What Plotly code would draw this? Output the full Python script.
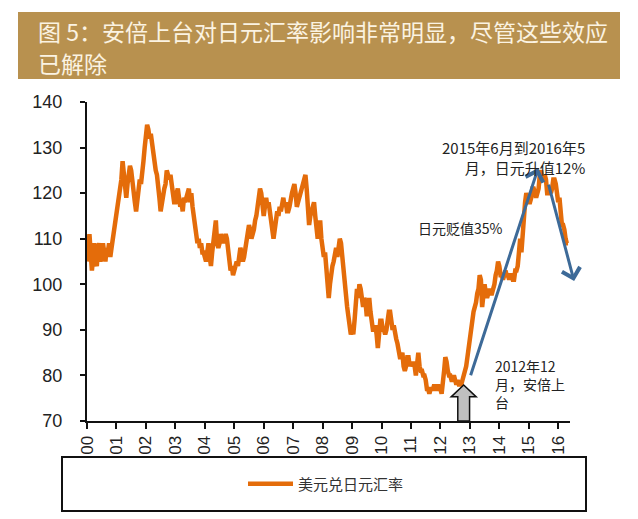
import plotly.graph_objects as go

# ---------------- data (USD/JPY, semi-monthly readings) ----------------
y2000 = [105, 108, 111, 107, 103, 106, 109, 105, 104, 108, 109, 105, 106, 109, 107, 105, 108, 107, 109, 106, 108, 110, 112, 114]
y2001 = [116, 118, 119, 121, 123, 127, 124, 121, 119, 122, 124, 126, 125, 122, 120, 118, 116, 119, 121, 123, 122, 124, 127, 130]
y2002 = [133, 135, 134, 132, 133, 131, 128, 127, 125, 124, 122, 119, 116, 118, 119, 121, 122, 125, 124, 123, 124, 121, 120, 118]
y2003 = [118, 120, 121, 119, 117, 118, 116, 119, 118, 119, 120, 121, 118, 120, 117, 115, 112, 110, 109, 110, 108, 109, 107, 107]
y2004 = [106, 105, 107, 109, 106, 104, 107, 110, 113, 114, 109, 108, 109, 111, 110, 109, 110, 111, 110, 107, 104, 103, 104, 102]
y2005 = [103, 104, 105, 104, 106, 108, 107, 105, 106, 108, 109, 111, 113, 112, 110, 111, 112, 114, 115, 117, 119, 121, 120, 117]
y2006 = [115, 117, 119, 117, 118, 116, 114, 112, 110, 112, 114, 116, 115, 117, 116, 118, 119, 117, 118, 116, 116, 117, 119, 120]
y2007 = [121, 122, 120, 117, 118, 119, 120, 121, 122, 123, 124, 121, 118, 113, 115, 116, 117, 118, 115, 111, 110, 112, 114, 110]
y2008 = [108, 106, 107, 103, 99, 97, 100, 103, 104, 105, 107, 108, 106, 108, 110, 109, 106, 104, 100, 96, 95, 93, 90, 89]
y2009 = [90, 89, 92, 97, 99, 97, 100, 99, 96, 95, 97, 96, 93, 95, 97, 94, 91, 90, 90, 91, 89, 86, 89, 92]
y2010 = [92, 90, 90, 89, 90, 93, 94, 94, 92, 90, 91, 89, 88, 87, 85, 84, 84, 85, 82, 81, 82, 84, 84, 82]
y2011 = [83, 82, 83, 82, 80, 83, 85, 82, 81, 81, 80, 80, 79, 77, 77, 76, 77, 77, 77, 78, 77, 77, 78, 77]
y2012 = [77, 76, 78, 81, 84, 83, 81, 80, 80, 79, 79, 80, 79, 78, 79, 78, 78, 78, 79, 80, 81, 82, 84, 86]
y2013 = [89, 91, 93, 94, 95, 96, 98, 99, 102, 101, 95, 99, 100, 98, 97, 98, 99, 98, 98, 99, 100, 102, 103, 105]
y2014 = [104, 102, 102, 101, 102, 103, 102, 102, 101, 102, 102, 101, 101, 103, 103, 104, 107, 110, 107, 112, 116, 118, 120, 119]
y2015 = [118, 118, 119, 121, 121, 120, 119, 120, 121, 124, 125, 123, 123, 124, 123, 120, 120, 121, 120, 121, 123, 123, 122, 120]
y2016 = [118, 119, 116, 113, 113, 112, 110, 109, 109]

years = list(range(2000, 2017))
tick_labels = ["00", "01", "02", "03", "04", "05", "06", "07", "08",
               "09", "10", "11", "12", "13", "14", "15", "16"]
series_name = "美元兑日元汇率"

yearly = [y2000, y2001, y2002, y2003, y2004, y2005, y2006, y2007, y2008,
          y2009, y2010, y2011, y2012, y2013, y2014, y2015, y2016]
xs, ys = [], []
for yr, vals in zip(years, yearly):
    for k, v in enumerate(vals):
        xs.append(yr + k / 24)
        ys.append(v)

# ---------------- figure ----------------
W, H = 638, 519
L, R, T, B = 87, 68, 102, 98
pw, ph = W - L - R, H - T - B

def px(xp):
    return (xp - L) / pw

def py(yp):
    return (H - B - yp) / ph

fig = go.Figure()
fig.add_trace(go.Scatter(
    x=xs, y=ys, mode="lines", name=series_name,
    line=dict(color="#E46C0A", width=4.5),
))

blue = "#3D6A98"
ann = []
title_font = dict(family="Noto Sans CJK SC", size=23, color="#FBF3E2")
ann.append(dict(xref="paper", yref="paper", x=px(36), y=py(31), xanchor="left", yanchor="middle",
                text="图 5：安倍上台对日元汇率影响非常明显，尽管这些效应", showarrow=False,
                font=title_font))
ann.append(dict(xref="paper", yref="paper", x=px(36), y=py(63), xanchor="left", yanchor="middle",
                text="已解除", showarrow=False, font=title_font))
# blue arrows
ann.append(dict(x=2015.32, y=125.5, ax=2013.01, ay=79.7, xref="x", yref="y", axref="x", ayref="y",
                text="", showarrow=True, arrowhead=4, arrowsize=1.2, arrowwidth=3, arrowcolor=blue))
ann.append(dict(x=2016.54, y=100.7, ax=2015.66, ay=122.2, xref="x", yref="y", axref="x", ayref="y",
                text="", showarrow=True, arrowhead=4, arrowsize=1.2, arrowwidth=3, arrowcolor=blue))
# text notes
def nf(size):
    return dict(family="Noto Sans CJK SC", size=size, color="#222222")

ann.append(dict(xref="paper", yref="paper", x=px(587), y=py(157), xanchor="right", yanchor="middle",
                align="right", showarrow=False, font=nf(15),
                text="2015年6月到2016年5<br>月，日元升值12%"))
ann.append(dict(xref="paper", yref="paper", x=px(416), y=py(228), xanchor="left", yanchor="middle",
                showarrow=False, font=nf(14), text="日元贬值35%"))
ann.append(dict(xref="paper", yref="paper", x=px(493), y=py(384), xanchor="left", yanchor="middle",
                align="left", showarrow=False, font=nf(14),
                text="2012年12<br>月，安倍上<br>台"))

# shapes: title box, legend box, gray block arrow
cx, hw, sw = 2012.79, 0.425, 0.2
tip, base, bot = 77.9, 75.3, 70
arrow_path = (f"M{cx},{tip} L{cx+hw},{base} L{cx+sw},{base} L{cx+sw},{bot} "
              f"L{cx-sw},{bot} L{cx-sw},{base} L{cx-hw},{base} Z")
shapes = [
    dict(type="rect", xref="paper", yref="paper", x0=px(18), x1=px(620), y0=py(79), y1=py(12),
         fillcolor="#B8914F", line=dict(width=0), layer="below"),
    dict(type="rect", xref="paper", yref="paper", x0=px(62), x1=px(586), y0=py(511), y1=py(457),
         fillcolor="rgba(0,0,0,0)", line=dict(color="#111111", width=2)),
    dict(type="path", xref="x", yref="y", path=arrow_path,
         fillcolor="#C0C0C0", line=dict(color="#111111", width=1.5)),
]

fig.update_layout(
    width=W, height=H,
    margin=dict(l=L, r=R, t=T, b=B),
    paper_bgcolor="white", plot_bgcolor="white",
    showlegend=True,
    legend=dict(x=px(243), y=py(484), xanchor="left", yanchor="middle", itemwidth=45,
                bgcolor="rgba(0,0,0,0)",
                font=dict(family="Noto Sans CJK SC", size=15, color="#333333")),
    annotations=ann, shapes=shapes,
    xaxis=dict(range=[2000, 2016.4], tickmode="array", tickvals=years, ticktext=tick_labels,
               tickangle=-90, showgrid=False, zeroline=False, showline=True, linecolor="#111111",
               linewidth=2, ticks="outside", ticklen=6, tickwidth=2, tickcolor="#111111",
               tickfont=dict(family="Liberation Sans", size=17, color="#222222")),
    yaxis=dict(range=[70, 140], dtick=10, showgrid=False, zeroline=False, showline=True,
               linecolor="#111111", linewidth=2, ticks="outside", ticklen=5, tickwidth=2,
               tickcolor="#111111", ticklabelstandoff=14,
               tickfont=dict(family="Liberation Sans", size=18, color="#222222")),
)

fig.write_html("out.html", config={"displayModeBar": False},
               post_script="document.body.style.margin='0px';document.body.style.padding='0px';")
